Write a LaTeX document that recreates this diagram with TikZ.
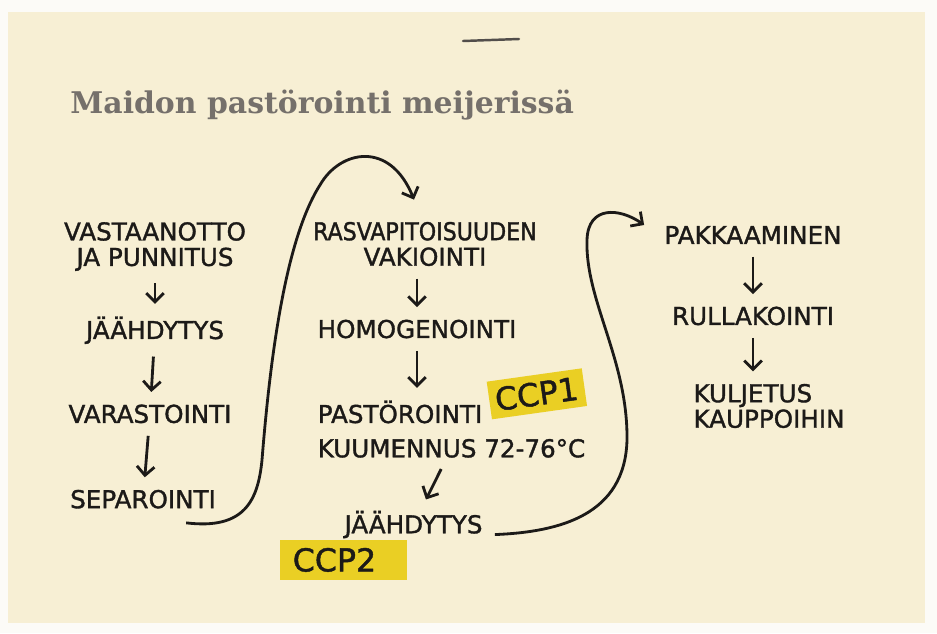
\documentclass[tikz,border=0pt]{standalone}
\usepackage{fontspec}
\newfontfamily\kasiala[FakeBold=1.4]{DejaVu Sans}
\newfontfamily\kasialakapea[FakeBold=1.4]{DejaVu Sans Condensed}
\newfontfamily\otsikkofontti{DejaVu Serif}
\usepackage{tikz}
\usetikzlibrary{positioning}
\usetikzlibrary{arrows.meta}
\definecolor{paperi}{RGB}{247,239,212}
\definecolor{reuna}{RGB}{252,251,247}
\definecolor{korostus}{RGB}{234,207,36}
\definecolor{muste}{RGB}{28,26,24}
\definecolor{harmaa}{RGB}{117,112,107}
\tikzstyle{vaihe} = [font=\kasiala\fontsize{14}{14.5}\selectfont, text=muste,
    align=center, inner sep=0pt]
\tikzstyle{merkki} = [fill=korostus, font=\kasiala\fontsize{18}{18}\selectfont,
    text=muste, align=left, inner ysep=0pt, minimum height=0.76cm]
\tikzstyle{line} = [draw=muste, line width=1.6pt, shorten <=7pt, shorten >=7pt,
    -{Straight Barb[length=5pt,width=10pt,line width=1.6pt]}]
\tikzstyle{kaari} = [draw=muste, line width=1.6pt,
    -{Straight Barb[length=5pt,width=10pt,line width=1.6pt]}]
\tikzstyle{otsikko} = [font=\otsikkofontti\bfseries\fontsize{17}{17}\selectfont,
    text=harmaa, anchor=base west, inner sep=0pt]

\begin{document}
\begin{tikzpicture}[x=0.02cm, y=-0.02cm]
            % Tausta
        \useasboundingbox (0,0) rectangle (937,633);
        \fill [reuna] (0,0) rectangle (937,633);
        \fill [paperi] (8,12) rectangle (925,623);
        \draw [harmaa!70!black, line width=1.4pt, line cap=round] (463,41) -- (519,39);
        \node [otsikko] (otsikko) at (70,113) {Maidon pastörointi meijerissä};
            % Vasen sarake
        \node [vaihe] (vastaanotto) at (155,246.5) {VASTAANOTTO\\JA PUNNITUS};
        \node [vaihe, below = 0.9cm of vastaanotto] (jaahdytys) {JÄÄHDYTYS};
        \node [vaihe, below = 1.2cm of jaahdytys, xshift=-0.1cm] (varastointi) {VARASTOINTI};
        \node [vaihe, below = 1.32cm of varastointi, xshift=-0.14cm] (separointi) {SEPAROINTI};
            % Keskisarake
        \node [vaihe] (rasva) at (425,244) {\kasialakapea RASVAPITOISUUDEN\\VAKIOINTI};
        \node [vaihe, below = 1.06cm of rasva, xshift=-0.16cm] (homogenointi) {HOMOGENOINTI};
        \node [vaihe, below = 1.23cm of homogenointi, xshift=-0.34cm] (pastorointi) {PASTÖROINTI};
        \node [vaihe, below = 0.3cm of pastorointi.south west, anchor=north west] (kuumennus) {KUUMENNUS 72-76°C};
        \node [vaihe, below = 1.05cm of kuumennus, xshift=-0.76cm] (jaahdytys2) {JÄÄHDYTYS};
        \node [merkki, rotate=8, right = 0.16cm of pastorointi, yshift=0.23cm,
            inner xsep=0.12cm, text width=1.68cm] (ccp1) {CCP1};
        \node [merkki, below left = 0.02cm and -1.26cm of jaahdytys2,
            inner xsep=0.26cm, text width=2.02cm, minimum height=0.8cm] (ccp2) {CCP2};
            % Oikea sarake
        \node [vaihe] (pakkaaminen) at (753,235) {PAKKAAMINEN};
        \node [vaihe, below = 1.24cm of pakkaaminen] (rullakointi) {RULLAKOINTI};
        \node [vaihe, align=left, below = 1.16cm of rullakointi, xshift=0.32cm] (kuljetus) {KULJETUS\\KAUPPOIHIN};
            % Nuolet
        \path [line] (vastaanotto) -- (jaahdytys);
        \path [line] (jaahdytys) -- (varastointi);
        \path [line] (varastointi) -- (separointi);
        \path [line] (rasva.south -| homogenointi) -- (homogenointi.north);
        \path [line] (homogenointi.south) -- (homogenointi.south |- pastorointi.north);
        \path [line] (kuumennus) -- (jaahdytys2);
        \path [line] (pakkaaminen) -- (rullakointi);
        \path [line] (rullakointi.south) -- (rullakointi.south |- kuljetus.north);
            % Kaaret
        \path [kaari] ([xshift=-0.6cm,yshift=-0.28cm]separointi.south east)
            .. controls (245,530) and (258,500) .. (262,460)
            .. controls (270,360) and (285,240) .. (320,185)
            .. controls (340,150) and (390,140) .. ([xshift=-0.22cm,yshift=0.44cm]rasva.north);
        \path [kaari] ([xshift=0.24cm,yshift=0.08cm]jaahdytys2.south east)
            .. controls (560,532) and (625,515) .. (627,440)
            .. controls (628,360) and (585,300) .. (587,240)
            .. controls (588,205) and (620,208) .. ([xshift=-0.4cm,yshift=0.2cm]pakkaaminen.west);
\end{tikzpicture}
\end{document}
